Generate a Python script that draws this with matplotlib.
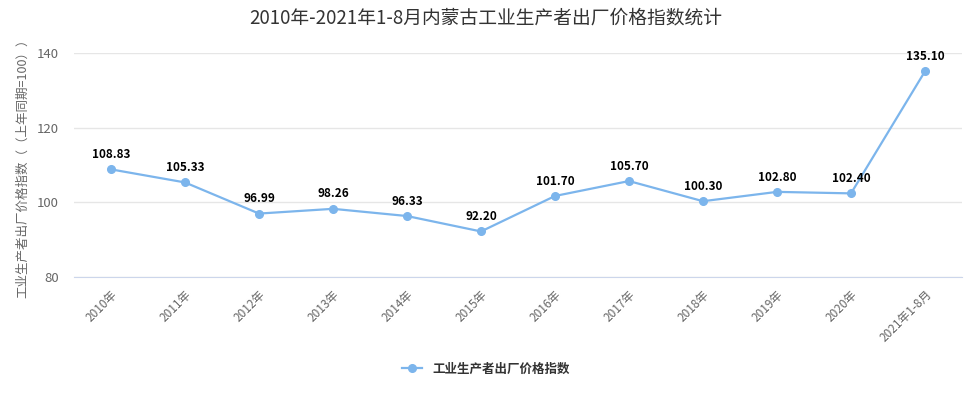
import matplotlib
matplotlib.use("Agg")
import matplotlib.pyplot as plt

plt.rcParams['font.family'] = ['Noto Sans CJK SC', 'DejaVu Sans']

categories = ["2010年", "2011年", "2012年", "2013年", "2014年", "2015年",
              "2016年", "2017年", "2018年", "2019年", "2020年", "2021年1-8月"]
values = [108.83, 105.33, 96.99, 98.26, 96.33, 92.20,
          101.70, 105.70, 100.30, 102.80, 102.40, 135.10]
yticks = [80, 100, 120, 140]
series_name = "工业生产者出厂价格指数"
title = "2010年-2021年1-8月内蒙古工业生产者出厂价格指数统计"
ylabel = "工业生产者出厂价格指数（（上年同期=100））"

fig = plt.figure(figsize=(9.72, 4.0), dpi=100)
ax = fig.add_axes([74/972, 1-277/400, (962-74)/972, (277-53)/400])

color = "#7cb5ec"
x = list(range(len(categories)))
ax.plot(x, values, color=color, lw=1.6, marker='o', ms=5.5, label=series_name, zorder=3)
for xi, v in zip(x, values):
    ax.annotate(f"{v:.2f}", (xi, v), xytext=(0, 6), textcoords='offset points',
                ha='center', va='bottom', fontsize=8.5, fontweight='bold', color='black', zorder=4)

ax.set_xlim(-0.5, len(categories) - 0.5)
ax.set_ylim(80, 140)
ax.set_yticks(yticks)
ax.set_yticklabels([str(t) for t in yticks], fontsize=9.5, color='#666666')
ax.set_xticks(x)
ax.set_xticklabels(categories, rotation=45, ha='right', rotation_mode='anchor',
                   fontsize=8.5, color='#666666')
ax.tick_params(axis='x', length=0, pad=8)
ax.tick_params(axis='y', length=0, pad=11)
ax.grid(axis='y', color='#e6e6e6', lw=1)
ax.set_axisbelow(True)
for s in ['top', 'right', 'left']:
    ax.spines[s].set_visible(False)
ax.spines['bottom'].set_color('#ccd6eb')

ax.set_ylabel(ylabel, fontsize=9, color='#666666')
ax.yaxis.set_label_coords(-(74 - 29) / (962 - 74), 0.5)
fig.text(0.5, 1-18/400, title, ha='center', va='center', fontsize=13.5, color='#333333')

leg = fig.legend(handles=ax.get_lines(), loc='center', bbox_to_anchor=(0.5, 1-369/400),
                 frameon=False, fontsize=9, handlelength=1.6)
for t in leg.get_texts():
    t.set_fontweight('bold')
    t.set_color('#333333')

fig.savefig("out.png", dpi=100)
